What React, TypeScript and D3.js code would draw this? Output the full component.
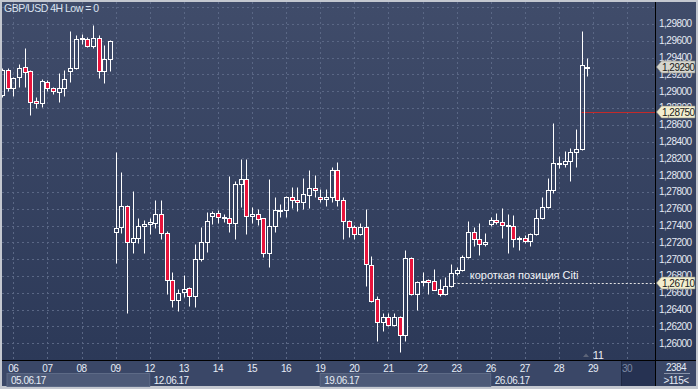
import React, { useEffect } from "react";
import * as d3 from "d3";

// ---- data (GBP/USD 4H candles, oldest first) ----
const openP = [
  1.28954, 1.29252, 1.29034, 1.29165, 1.29284, 1.2924, 1.28883, 1.28855, 1.29105, 1.29034,
  1.28993, 1.29034, 1.29243, 1.29272, 1.29636, 1.29617, 1.29537, 1.29629, 1.2924, 1.29379,
  1.27327, 1.27379, 1.27633, 1.27201, 1.27248, 1.27398, 1.27415, 1.27434, 1.27534, 1.27308,
  1.26752, 1.26514, 1.26605, 1.26653, 1.26561, 1.26998, 1.27208, 1.27517, 1.27546, 1.27498,
  1.27486, 1.27427, 1.27894, 1.27954, 1.27517, 1.27534, 1.27486, 1.2707, 1.27395, 1.27577,
  1.27585, 1.27736, 1.27704, 1.27684, 1.2776, 1.27843, 1.27743, 1.27716, 1.27736, 1.28061,
  1.27704, 1.27454, 1.27379, 1.27296, 1.27386, 1.2693, 1.26522, 1.26248, 1.26308, 1.26216,
  1.26315, 1.26097, 1.27017, 1.26581, 1.26724, 1.26752, 1.2674, 1.26641, 1.26581, 1.26684,
  1.26831, 1.26871, 1.27022, 1.2732, 1.2724, 1.2718, 1.27415, 1.27466, 1.27439, 1.27395,
  1.27395, 1.27236, 1.27255, 1.27216, 1.27299, 1.27486, 1.27617, 1.27823, 1.28148, 1.28129,
  1.28172, 1.28279, 1.28311, 1.29285,
];
const highP = [
  1.29275, 1.29279, 1.29172, 1.29323, 1.29517, 1.29252, 1.28934, 1.29141, 1.29133, 1.29053,
  1.29212, 1.29252, 1.29716, 1.29668, 1.29677, 1.29641, 1.29787, 1.29668, 1.29549, 1.29605,
  1.28272, 1.28034, 1.27645, 1.27811, 1.27486, 1.27466, 1.27486, 1.27704, 1.27704, 1.27335,
  1.26843, 1.26645, 1.26811, 1.26672, 1.2718, 1.27379, 1.27565, 1.27577, 1.27585, 1.27537,
  1.27993, 1.2793, 1.28192, 1.28192, 1.27624, 1.27597, 1.27493, 1.27954, 1.27743, 1.27653,
  1.27752, 1.27855, 1.27862, 1.27969, 1.28061, 1.28002, 1.27835, 1.27831, 1.28101, 1.28153,
  1.2774, 1.27466, 1.27406, 1.27434, 1.27597, 1.27037, 1.26561, 1.26362, 1.26355, 1.26362,
  1.26323, 1.27109, 1.27025, 1.26743, 1.26843, 1.2676, 1.26879, 1.2676, 1.26784, 1.26939,
  1.2691, 1.27049, 1.27454, 1.27386, 1.27434, 1.27308, 1.27505, 1.27553, 1.27605, 1.27537,
  1.27526, 1.27276, 1.27287, 1.27308, 1.27593, 1.27736, 1.27962, 1.28617, 1.28228, 1.28287,
  1.2832, 1.28549, 1.29716, 1.29391,
];
const lowP = [
  1.2893, 1.29005, 1.28946, 1.29053, 1.29046, 1.28716, 1.28796, 1.28808, 1.29005, 1.28966,
  1.28874, 1.28946, 1.29105, 1.29265, 1.29558, 1.29529, 1.2951, 1.2916, 1.29093, 1.29243,
  1.26958, 1.27308, 1.26362, 1.2707, 1.27196, 1.2707, 1.27296, 1.27367, 1.27236, 1.26581,
  1.26434, 1.26386, 1.26553, 1.26446, 1.26427, 1.26981, 1.27089, 1.27418, 1.27434, 1.27446,
  1.27327, 1.2724, 1.27624, 1.27299, 1.27434, 1.27406, 1.27029, 1.2691, 1.27327, 1.27498,
  1.27505, 1.27605, 1.27577, 1.27597, 1.27612, 1.27736, 1.27684, 1.27636, 1.27677, 1.27633,
  1.27234, 1.27267, 1.27236, 1.27287, 1.26684, 1.26493, 1.26029, 1.26148, 1.26208, 1.26208,
  1.25898, 1.26026, 1.26575, 1.26394, 1.26684, 1.26585, 1.26627, 1.26561, 1.26573, 1.26672,
  1.26811, 1.26862, 1.2701, 1.27156, 1.27049, 1.27156, 1.27395, 1.27418, 1.27255, 1.2707,
  1.27148, 1.27109, 1.27196, 1.27156, 1.27287, 1.27478, 1.27605, 1.27791, 1.28081, 1.28093,
  1.27934, 1.28101, 1.28299, 1.29184,
];
const closeP = [
  1.29252, 1.29034, 1.29153, 1.29272, 1.29224, 1.28874, 1.28855, 1.29121, 1.29034, 1.29002,
  1.29034, 1.29141, 1.29279, 1.29617, 1.29617, 1.29537, 1.29629, 1.2924, 1.29379, 1.296,
  1.27367, 1.27633, 1.27201, 1.27248, 1.27395, 1.27415, 1.27439, 1.27534, 1.27308, 1.26752,
  1.26514, 1.26593, 1.26641, 1.26561, 1.26998, 1.27208, 1.27454, 1.27553, 1.27498, 1.27486,
  1.27427, 1.27894, 1.27954, 1.27517, 1.27534, 1.27474, 1.2707, 1.27395, 1.27585, 1.27585,
  1.27736, 1.27704, 1.27684, 1.27772, 1.27843, 1.27823, 1.27712, 1.27736, 1.28061, 1.27704,
  1.27454, 1.27379, 1.27296, 1.27386, 1.26939, 1.26502, 1.26248, 1.26308, 1.26216, 1.26315,
  1.26097, 1.27017, 1.26581, 1.26724, 1.26743, 1.26731, 1.26633, 1.26581, 1.26684, 1.26831,
  1.26871, 1.27022, 1.2732, 1.2724, 1.2718, 1.27201, 1.27466, 1.27446, 1.27406, 1.27406,
  1.27236, 1.27248, 1.27216, 1.27299, 1.27486, 1.27617, 1.27823, 1.28148, 1.28129, 1.28172,
  1.28279, 1.28308, 1.29311, 1.2929,
];

const dayLabels = ["06", "07", "08", "09", "12", "13", "14", "15", "16", "19", "20", "21", "22", "23", "26", "27", "28", "29", "30"];
const weekLabels = ["05.06.17", "12.06.17", "19.06.17", "26.06.17"];
const weekStartDay = [-1, 4, 9, 14];
const priceTicks = [
  1.26, 1.262, 1.264, 1.266, 1.268, 1.27, 1.272, 1.274, 1.276, 1.278,
  1.28, 1.282, 1.284, 1.286, 1.288, 1.29, 1.292, 1.294, 1.296, 1.298,
];
const gridPrices = [...priceTicks, 1.3];
const lastPrice = 1.2929;
const levelPrice = 1.2875;
const citiPrice = 1.2671;
const titleText = "GBP/USD 4H Low = 0";
const citiText = "короткая позиция Citi";
const barsCount = "2384";
const barsShown = ">115<";
const markerCount = "11";

const W = 698;
const H = 389;
const PL = 2;
const PR = 655;
const PT = 2;
const PB = 360;
const FONT = "'Liberation Sans', Arial, sans-serif";

const fmt = (v: number) => d3.format(".5f")(v).replace(".", ",");

export default function App() {
  useEffect(() => {
    document.body.style.margin = "0";
  }, []);

  const x = d3.scaleLinear().domain([2, 104]).range([13.3, 593]);
  const y = d3.scaleLinear().domain([1.26, 1.298]).range([343.1, 23.9]);
  const dayX = (d: number) => x(2 + 6 * d);
  const snap = (v: number) => Math.round(v) + 0.5;

  const candles = d3.range(openP.length).map((i) => {
    const o = openP[i], c = closeP[i], h = highP[i], l = lowP[i];
    const up = c >= o;
    const cx = snap(x(i));
    const top = snap(y(Math.max(o, c)));
    let bot = snap(y(Math.min(o, c)));
    if (bot - top < 1) bot = top + 1;
    return { i, up, cx, top, bot, hy: snap(y(h)), ly: snap(y(l)) };
  });

  const priceBox = (v: number, fill: string) => {
    const yc = Math.round(y(v));
    const pts = [
      [656.5, yc],
      [661.5, yc - 6],
      [695, yc - 6],
      [695, yc + 6],
      [661.5, yc + 6],
    ];
    return (
      <g key={"pb" + v}>
        <polygon points={pts.map((p) => p.join(",")).join(" ")} fill={fill} stroke="#8c8c80" strokeWidth={0.6} />
        <text x={662} y={yc} dy="0.35em" fontSize={10} letterSpacing={-0.5} fill="#1a1a1a" fontFamily={FONT}>
          {fmt(v)}
        </text>
      </g>
    );
  };

  return (
    <svg width={W} height={H} style={{ display: "block", position: "absolute", left: 0, top: 0 }} fontFamily={FONT}>
      <defs>
        <linearGradient id="bg" x1="0" y1="0" x2="0" y2="360" gradientUnits="userSpaceOnUse">
          <stop offset="0" stopColor="#404c6a" />
          <stop offset="1" stopColor="#2c3958" />
        </linearGradient>
        <clipPath id="plotClip">
          <rect x={PL} y={PT} width={PR - PL} height={PB - PT} />
        </clipPath>
      </defs>

      {/* frame */}
      <rect x={0} y={0} width={W} height={H} fill="#c4c8d0" />
      <rect x={PL} y={PT} width={W - 4} height={PB - PT} fill="url(#bg)" />

      {/* bottom axis rows */}
      <rect x={PL} y={PB} width={W - 4} height={386 - PB} fill="#3a4767" />
      {weekLabels.map((w, k) => {
        const x0 = Math.max(dayX(weekStartDay[k]), 7);
        const x1 = k + 1 < weekLabels.length ? dayX(weekStartDay[k + 1]) : 621;
        return (
          <g key={w}>
            {k % 2 === 0 && (
              <rect x={x0} y={373.5} width={x1 - x0} height={13} fill="#4d5a78" stroke="#5d6a86" strokeWidth={1} />
            )}
            <text x={x0 + 4} y={380} dy="0.35em" fontSize={10} letterSpacing={-0.5} fill="#e6ecf6">
              {w}
            </text>
          </g>
        );
      })}
      <rect x={622} y={361} width={PR - 622} height={25} fill="#263252" />
      <line x1={621.5} x2={621.5} y1={361} y2={386} stroke="#1e2842" />

      {/* grid */}
      <g clipPath="url(#plotClip)">
        {gridPrices.map((p) => (
          <line key={"h" + p} x1={PL} x2={PR} y1={snap(y(p))} y2={snap(y(p))} stroke="#5a6785" strokeDasharray="2,3" />
        ))}
        {dayLabels.map((d, k) => (
          <line key={"v" + d} x1={snap(dayX(k))} x2={snap(dayX(k))} y1={PT} y2={PB} stroke="#5a6785" strokeDasharray="2,3" />
        ))}
      </g>

      {/* title */}
      <text x={4} y={8} dy="0.35em" fontSize={10.5} letterSpacing={-0.5} fill="#dbe3f0">
        {titleText}
      </text>

      {/* level lines */}
      <line x1={x(102)} x2={PR} y1={snap(y(levelPrice))} y2={snap(y(levelPrice))} stroke="#c42a2a" strokeWidth={1} />
      <line x1={x(79.5)} x2={PR} y1={snap(y(citiPrice))} y2={snap(y(citiPrice))} stroke="#e4e4e4" strokeDasharray="2,2" />
      <text x={x(79.5) + 16} y={y(citiPrice) - 4} fontSize={11} fill="#f2f4f8">
        {citiText}
      </text>

      {/* candles */}
      <g clipPath="url(#plotClip)">
        {candles.map((k) =>
          k.up ? (
            <g key={k.i}>
              <line x1={k.cx} x2={k.cx} y1={k.hy} y2={k.top} stroke="#ffffff" />
              <line x1={k.cx} x2={k.cx} y1={k.bot} y2={k.ly} stroke="#ffffff" />
              <rect x={k.cx - 2} y={k.top} width={4} height={k.bot - k.top} fill="none" stroke="#ffffff" />
            </g>
          ) : (
            <g key={k.i}>
              <line x1={k.cx} x2={k.cx} y1={k.hy} y2={k.ly} stroke="#ffffff" />
              <rect x={k.cx - 2} y={k.top} width={4} height={k.bot - k.top} fill="#e8143c" stroke="#ffffff" />
            </g>
          )
        )}
      </g>

      {/* marker */}
      <polygon points={`583,357 586,353.5 589,357`} fill="#5c6478" />
      <text x={593} y={355} dy="0.35em" fontSize={10.5} fill="#eef2f8">
        {markerCount}
      </text>

      {/* separators */}
      <line x1={PR + 0.5} x2={PR + 0.5} y1={PT} y2={386} stroke="#000000" />
      <line x1={PL} x2={W - 2} y1={PB + 0.5} y2={PB + 0.5} stroke="#000000" />

      {/* right axis labels */}
      {priceTicks.map((p) => (
        <text key={"t" + p} x={659} y={y(p)} dy="0.35em" fontSize={10} letterSpacing={-0.5} fill="#e4eaf4">
          {fmt(p)}
        </text>
      ))}
      {priceBox(lastPrice, "#d6d6ce")}
      {priceBox(levelPrice, "#f2eecf")}
      {priceBox(citiPrice, "#f2eecf")}

      {/* day labels */}
      {dayLabels.map((d, k) => (
        <text
          key={"d" + d}
          x={dayX(k)}
          y={368}
          dy="0.35em"
          textAnchor="middle"
          fontSize={10}
          letterSpacing={-0.5}
          fill={k === dayLabels.length - 1 ? "#7c88a2" : "#e6ecf6"}
        >
          {d}
        </text>
      ))}

      {/* bars info */}
      <text x={676} y={367} dy="0.35em" textAnchor="middle" fontSize={10} letterSpacing={-0.5} fill="#e4eaf4">
        {barsCount}
      </text>
      <line x1={664} x2={690} y1={373.5} y2={373.5} stroke="#8a94aa" />
      <text x={676} y={380} dy="0.35em" textAnchor="middle" fontSize={10} letterSpacing={-0.5} fill="#e4eaf4">
        {barsShown}
      </text>
    </svg>
  );
}
